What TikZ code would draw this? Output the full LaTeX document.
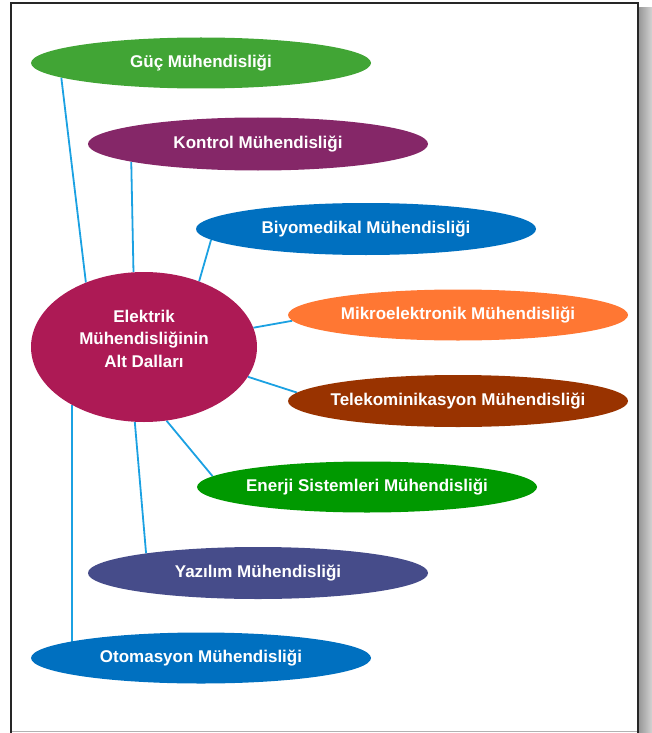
\documentclass[tikz,border=0pt]{standalone}
\usepackage{fontspec}
\setmainfont{Liberation Sans}
\usetikzlibrary{shapes.geometric,backgrounds}
\definecolor{gucgreen}{HTML}{41A535}
\definecolor{kontrolpurple}{HTML}{852768}
\definecolor{biyoblue}{HTML}{0070C0}
\definecolor{mikroorange}{HTML}{FF7733}
\definecolor{telebrown}{HTML}{993300}
\definecolor{enerjigreen}{HTML}{009900}
\definecolor{yazilimblue}{HTML}{464C8A}
\definecolor{anared}{HTML}{AD1A55}
\definecolor{linkblue}{HTML}{1BA1E2}
\begin{document}
\begin{tikzpicture}[x=1pt,y=-1pt, font=\fontsize{17}{22.5}\selectfont\bfseries,
  dal/.style={ellipse, inner ysep=0pt, inner xsep=-80pt, minimum width=340pt, minimum height=51pt, text=white},
  link/.style={linkblue, line width=1.8pt}]
\useasboundingbox (0,0) rectangle (652,733);
% frame and shadow
\shade[left color=gray!80, right color=gray!35] (639,8) rectangle (652,733);
\draw[gray!60, line width=1pt] (11,731.5) -- (638,731.5);
\draw[black!85, line width=1.3pt] (11,733) -- (11,3) -- (638,3) -- (638,733);
% center
\node[ellipse, inner sep=0pt, minimum width=226pt, minimum height=150pt, fill=anared, text=white]
  (ana) at (144,347) {\raisebox{0pt}[\height][\dimexpr\depth+14pt]{\begin{tabular}{@{}c@{}}Elektrik\\Mühendisliğinin\\Alt Dalları\end{tabular}}};
% branches
\node[dal, fill=gucgreen] (guc) at (201,63) {Güç Mühendisliği};
\node[dal, fill=kontrolpurple, minimum height=53pt] (kontrol) at (258,144) {Kontrol Mühendisliği};
\node[dal, fill=biyoblue, minimum height=52pt] (biyo) at (366,229) {Biyomedikal Mühendisliği};
\node[dal, fill=mikroorange] (mikro) at (458,315) {Mikroelektronik Mühendisliği};
\node[dal, fill=telebrown, minimum height=52pt] (tele) at (458,401) {Telekominikasyon Mühendisliği};
\node[dal, fill=enerjigreen] (enerji) at (367,487) {Enerji Sistemleri Mühendisliği};
\node[dal, fill=yazilimblue, minimum height=52pt] (yazilim) at (258,573) {Yazılım Mühendisliği};
\node[dal, fill=biyoblue] (otom) at (201,658) {Otomasyon Mühendisliği};
% links
\begin{scope}[on background layer]
\draw[link] (ana.132) -- (guc.186);
\draw[link] (ana.98) -- (kontrol.188.7);
\draw[link] (ana.50) -- (biyo.184);
\draw[link] (ana.10) -- (mikro.182);
\draw[link] (ana.344) -- (tele.177);
\draw[link] (ana.287) -- (enerji.176);
\draw[link] (ana.263) -- (yazilim.170);
\draw[link] (ana.219) -- (ana.219 |- otom.center);
\end{scope}
\end{tikzpicture}
\end{document}
